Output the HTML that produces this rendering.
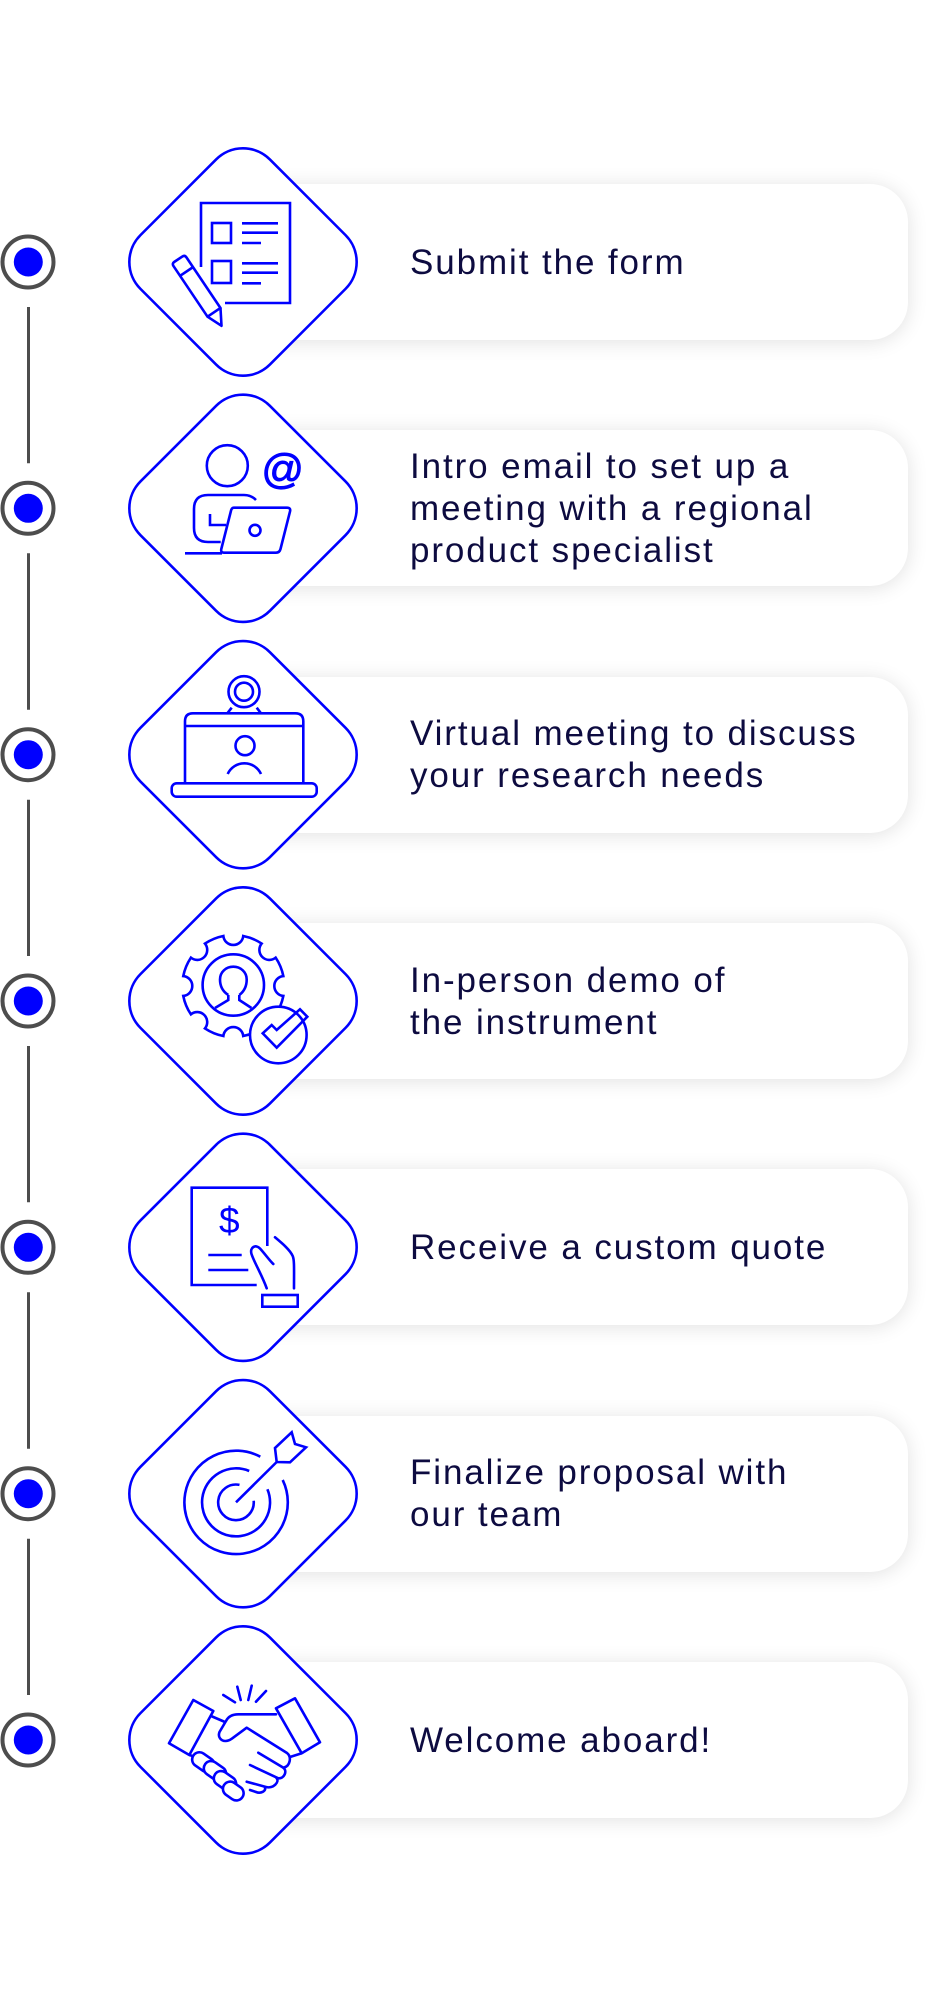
<!DOCTYPE html>
<html>
<head>
<meta charset="utf-8">
<style>
html,body{margin:0;padding:0;background:#fff;}
body{width:931px;height:2000px;position:relative;overflow:hidden;}
.card{position:absolute;left:230px;width:678px;height:156px;background:#fff;border-radius:38px;box-shadow:0 2px 20px rgba(0,0,0,.12);}
.t{position:absolute;left:410px;font-family:"Liberation Sans",sans-serif;font-size:35px;line-height:42px;letter-spacing:1.9px;color:#0d0b40;white-space:nowrap;}
svg{position:absolute;left:0;top:0;}
</style>
</head>
<body>
<div class="card" style="top:184px"></div>
<div class="card" style="top:430.3px"></div>
<div class="card" style="top:676.7px"></div>
<div class="card" style="top:923px"></div>
<div class="card" style="top:1169.3px"></div>
<div class="card" style="top:1415.7px"></div>
<div class="card" style="top:1662px"></div>

<svg width="931" height="2000" viewBox="0 0 931 2000" xmlns="http://www.w3.org/2000/svg">
  <!-- connectors -->
  <g stroke="#4d4d4d" stroke-width="3">
    <line x1="28.5" y1="307" x2="28.5" y2="463.3"/>
    <line x1="28.5" y1="553.3" x2="28.5" y2="709.7"/>
    <line x1="28.5" y1="799.7" x2="28.5" y2="956"/>
    <line x1="28.5" y1="1046" x2="28.5" y2="1202.3"/>
    <line x1="28.5" y1="1292.3" x2="28.5" y2="1448.7"/>
    <line x1="28.5" y1="1538.7" x2="28.5" y2="1695"/>
  </g>
  <!-- dots -->
  <g>
    <g stroke="#4d4d4d" stroke-width="4" fill="#fff">
      <circle cx="28" cy="262" r="25.5"/>
      <circle cx="28" cy="508.3" r="25.5"/>
      <circle cx="28" cy="754.7" r="25.5"/>
      <circle cx="28" cy="1001" r="25.5"/>
      <circle cx="28" cy="1247.3" r="25.5"/>
      <circle cx="28" cy="1493.7" r="25.5"/>
      <circle cx="28" cy="1740" r="25.5"/>
    </g>
    <g fill="#0000ff">
      <circle cx="28.3" cy="262" r="14.5"/>
      <circle cx="28.3" cy="508.3" r="14.5"/>
      <circle cx="28.3" cy="754.7" r="14.5"/>
      <circle cx="28.3" cy="1001" r="14.5"/>
      <circle cx="28.3" cy="1247.3" r="14.5"/>
      <circle cx="28.3" cy="1493.7" r="14.5"/>
      <circle cx="28.3" cy="1740" r="14.5"/>
    </g>
  </g>
  <!-- diamonds -->
  <g fill="#fff" stroke="#0000ff" stroke-width="2.6">
    <rect x="151.5" y="170.5" width="183" height="183" rx="38" transform="rotate(45 243 262)"/>
    <rect x="151.5" y="416.8" width="183" height="183" rx="38" transform="rotate(45 243 508.3)"/>
    <rect x="151.5" y="663.2" width="183" height="183" rx="38" transform="rotate(45 243 754.7)"/>
    <rect x="151.5" y="909.5" width="183" height="183" rx="38" transform="rotate(45 243 1001)"/>
    <rect x="151.5" y="1155.8" width="183" height="183" rx="38" transform="rotate(45 243 1247.3)"/>
    <rect x="151.5" y="1402.2" width="183" height="183" rx="38" transform="rotate(45 243 1493.7)"/>
    <rect x="151.5" y="1648.5" width="183" height="183" rx="38" transform="rotate(45 243 1740)"/>
  </g>

  <g fill="none" stroke="#0000ff" stroke-width="2.6">
    <!-- Icon 1: form -->
    <path d="M201,267 V203 H290 V303 H225"/>
    <rect x="212" y="223" width="19" height="20"/>
    <rect x="212" y="261" width="19" height="22"/>
    <path d="M242,223.3H278 M242,232.7H278 M242,243H261 M242,263.3H278 M242,272.7H278 M242,283.3H261"/>
    <g transform="translate(178.3,259.2) rotate(-33.9)" stroke-linejoin="round">
      <path d="M-7.8,64 V3 Q-7.8,0 -4.8,0 H4.8 Q7.8,0 7.8,3 V64 Z"/>
      <path d="M-7.8,14.8 H7.8"/>
      <path d="M-7.8,64 L-1.3,79.4 L7.8,64"/>
    </g>

    <!-- Icon 2: person with laptop and @ -->
    <circle cx="227.3" cy="465.7" r="20.5"/>
    <path d="M256,500 Q251,495 244,495 H208 Q194,495 194,509 V528 Q194,542 208,542 H220.7"/>
    <path d="M210,514 V525 H226"/>
    <path d="M234,507.7 H287 Q291,507.7 290,511.5 L280.5,549 Q279.5,552.7 276,552.7 H224 Q220.5,552.7 221.3,549 L230.8,511.5 Q231.5,507.7 234,507.7 Z" stroke-linejoin="round"/>
    <circle cx="255" cy="530.3" r="5.5"/>
    <path d="M185,553.3 H222"/>

    <!-- Icon 3: virtual meeting -->
    <circle cx="244" cy="691.7" r="15.5"/>
    <circle cx="244" cy="691.7" r="9"/>
    <path d="M231.7,707.7 L227.3,713.3 M256.7,707.7 L261,713.3"/>
    <path d="M185,783.3 V721.3 Q185,713.3 193,713.3 H295.3 Q303.3,713.3 303.3,721.3 V783.3"/>
    <path d="M185,726 H303.3"/>
    <circle cx="245" cy="745.7" r="9.5"/>
    <path d="M227.7,774 A18.3,18.3 0 0 1 261,774"/>
    <rect x="171.7" y="783.3" width="145" height="13.4" rx="5"/>

    <!-- Icon 4: gear with person and check -->
    <path d="M243.25,935.98 A51,51 0 0 1 261.64,943.59 A10,10 0 0 0 275.71,957.66 A51,51 0 0 1 283.32,976.05 A10,10 0 0 0 283.32,995.95 A51,51 0 0 1 275.71,1014.34 A10,10 0 0 0 261.64,1028.41 A51,51 0 0 1 243.25,1036.02 A10,10 0 0 0 223.35,1036.02 A51,51 0 0 1 204.96,1028.41 A10,10 0 0 0 190.89,1014.34 A51,51 0 0 1 183.28,995.95 A10,10 0 0 0 183.28,976.05 A51,51 0 0 1 190.89,957.66 A10,10 0 0 0 204.96,943.59 A51,51 0 0 1 223.35,935.98 A10,10 0 0 0 243.25,935.98 Z"/>
    <circle cx="233.3" cy="985" r="30.7"/>
    <path d="M228.3,995 C222,991 220,985 220,979.5 C220,972 226,966.7 233.3,966.7 C240.6,966.7 246.7,972 246.7,979.5 C246.7,985 244.6,991 239.3,995"/>
    <path d="M228.3,995 V1000 L215,1008 M239.3,995 V1000 L251.5,1008"/>
    <circle cx="278.3" cy="1035" r="28.3" fill="#fff"/>
    <path d="M262.7,1033.3 L271.7,1025 L276.7,1030 L300,1009.3 L307.3,1016.7 L276.7,1047.7 Z" stroke-linejoin="miter"/>

    <!-- Icon 5: quote -->
    <path d="M267.3,1246 V1187.7 H191.7 V1285 H256.7"/>
    <path d="M208.3,1255 H241.7 M208.3,1270 H248.3"/>
    <path d="M266.7,1288.3 C262,1275 254,1262 251.5,1254 C249.5,1247 256,1244 260,1248.5 C265,1254 270,1261 273.3,1264" stroke-linecap="round"/>
    <path d="M275,1237.3 C283,1244 290,1250 292.7,1256 C294.5,1260 294,1270 294,1288.3" stroke-linecap="round"/>
    <rect x="262.3" y="1295" width="35.4" height="11.7"/>

    <!-- Icon 6: target -->
    <path d="M260.3,1456.7 A51.7,51.7 0 1 0 282.7,1480"/>
    <path d="M249.2,1471 A34,34 0 1 0 267.4,1489.2"/>
    <path d="M239.5,1484.9 A17.8,17.8 0 1 0 253.7,1500.8"/>
    <path d="M236,1502.3 L276.7,1462"/>
    <path d="M276.7,1462 L275,1448 L291.7,1432.3 L295,1444 L306,1447.3 L290,1462.3 Z" stroke-linejoin="miter"/>

    <!-- Icon 7: handshake -->
    <path d="M169,1743.3 L193.3,1700 L213.3,1711 L189.3,1755 Z" stroke-linejoin="round"/>
    <path d="M276,1708.3 L295,1698.3 L320,1742.3 L301.7,1753.3 Z" stroke-linejoin="round"/>
    <path d="M223.3,1695 L235,1702.3 M237.3,1686.7 L240.7,1700 M251.7,1685.7 L248.3,1700 M266,1691 L256,1701.7" stroke-linecap="round"/>
    <path d="M211,1716 L225,1722"/>
    <path d="M276,1714.3 H238.3 C232,1714.3 228,1717 226,1721 L219.5,1732 C217.5,1737 221,1741 225.5,1741 C228,1741 230,1740 232,1738.6 L246.7,1727.7 L287,1753 C292,1757 290,1766 284,1767.5" stroke-linejoin="round" stroke-linecap="round"/>
    <path d="M258.3,1752.7 L283,1767.5 C288,1771 284,1779 278.3,1778.3 L250,1765" stroke-linecap="round"/>
    <path d="M276.5,1778 C280,1782 273,1789 266,1787 L246.7,1781.7" stroke-linecap="round"/>
    <path d="M265,1787.5 C266,1791 261,1794 256,1792 L250,1790" stroke-linecap="round"/>
    <path d="M301.7,1753.3 L290,1757"/>
    <path d="M189.3,1755 L196,1757"/>
    <g fill="#fff">
      <rect x="191.3" y="1755" width="24" height="14.5" rx="7.2" transform="rotate(35 203.3 1762.3)"/>
      <rect x="203" y="1763.8" width="24" height="14.5" rx="7.2" transform="rotate(35 215 1771)"/>
      <rect x="213" y="1773.8" width="24" height="14.5" rx="7.2" transform="rotate(35 225 1781)"/>
      <rect x="222.3" y="1783.8" width="22" height="14.5" rx="7.2" transform="rotate(35 233.3 1791)"/>
    </g>
  </g>
  <text x="282.7" y="483.5" font-family="Liberation Sans, sans-serif" font-size="42" fill="#0000ff" stroke="#0000ff" stroke-width="0.9" text-anchor="middle">@</text>
  <text x="229.3" y="1233" font-family="Liberation Sans, sans-serif" font-size="37" fill="#0000ff" text-anchor="middle">$</text>
</svg>

<div class="t" style="top:241.6px">Submit the form</div>
<div class="t" style="top:445.9px">Intro email to set up a<br>meeting with a regional<br>product specialist</div>
<div class="t" style="top:713.3px">Virtual meeting to discuss<br>your research needs</div>
<div class="t" style="top:959.6px">In-person demo of<br>the instrument</div>
<div class="t" style="top:1226.9px">Receive a custom quote</div>
<div class="t" style="top:1452.3px">Finalize proposal with<br>our team</div>
<div class="t" style="top:1719.6px">Welcome aboard!</div>
</body>
</html>
